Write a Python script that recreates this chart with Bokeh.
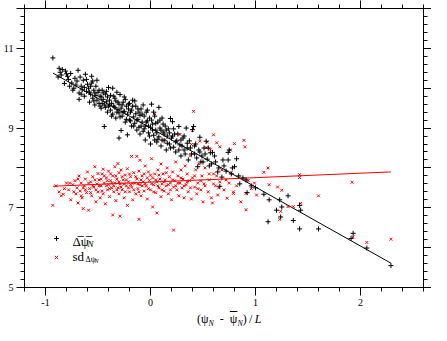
from bokeh.plotting import figure
from bokeh.models import (Range1d, FixedTicker, LinearAxis, Legend, LegendItem, Label, Div)
from bokeh.layouts import column
from bokeh.embed import file_html
from bokeh.resources import INLINE

# ---- data ----
mean_points = [
    (-0.93,10.76), (-0.86,10.40), (-0.84,10.47), (-0.81,10.43), (-0.85,10.33), (-0.88,10.28), (-0.82,10.12), (-0.80,10.36),
    (-0.78,10.22), (-0.76,10.37), (-0.75,10.13), (-0.73,10.00), (-0.72,10.25), (-0.71,10.08), (-0.74,9.95), (-0.70,10.18),
    (-0.69,10.45), (-0.68,9.88), (-0.68,9.72), (-0.66,10.05), (-0.65,9.96), (-0.64,10.20), (-0.62,10.35), (-0.63,9.80), (-0.61,9.92), (-0.60,10.10),
    (-0.59,10.00), (-0.58,9.65), (-0.57,9.85), (-0.56,10.13), (-0.56,10.30), (-0.55,9.75), (-0.54,9.95), (-0.53,9.58), (-0.52,9.82), (-0.51,10.20), (-0.51,9.70), (-0.50,9.90),
    (-0.49,9.62), (-0.48,9.80), (-0.47,9.50), (-0.46,9.95), (-0.45,9.72), (-0.44,9.04), (-0.44,9.58), (-0.43,9.85), (-0.42,9.66), (-0.41,9.40), (-0.41,9.78), (-0.40,9.55), (-0.40,10.02),
    (-0.39,9.70), (-0.38,9.45), (-0.37,9.62), (-0.36,10.00), (-0.36,9.35), (-0.35,9.80), (-0.34,9.52), (-0.33,9.68), (-0.33,9.25), (-0.32,9.90), (-0.31,9.46), (-0.30,8.75), (-0.30,9.60), (-0.30,9.38),
    (-0.29,9.84), (-0.28,8.94), (-0.28,9.50), (-0.27,9.30), (-0.26,9.65), (-0.25,9.42), (-0.24,9.15), (-0.24,9.72), (-0.23,9.55), (-0.22,8.83), (-0.22,9.35), (-0.21,9.48), (-0.20,9.20), (-0.20,9.62),
    (-0.19,9.40), (-0.18,9.05), (-0.17,9.55), (-0.16,9.28), (-0.15,9.68), (-0.15,9.12), (-0.14,9.36), (-0.13,8.95), (-0.12,9.48), (-0.12,9.22), (-0.11,9.02), (-0.10,9.32), (-0.10,8.85),
    (-0.09,9.48), (-0.08,9.15), (-0.07,8.92), (-0.06,9.30), (-0.05,9.05), (-0.05,8.70), (-0.04,9.40), (-0.03,9.18), (-0.02,8.88), (-0.01,9.25), (0.00,9.02), (0.00,8.60),
    (0.01,9.60), (0.02,9.10), (0.03,8.82), (0.04,9.30), (0.05,8.95), (0.06,8.65), (0.07,9.15), (0.08,9.52), (0.08,8.78), (0.09,9.00), (0.10,8.55),
    (0.11,9.25), (0.12,8.90), (0.13,8.68), (0.14,9.05), (0.15,8.45), (0.16,8.80), (0.17,8.98), (0.18,8.60), (0.19,9.24), (0.20,8.75),
    (0.21,9.16), (0.22,8.52), (0.23,8.85), (0.24,8.40), (0.25,8.68), (0.27,9.04), (0.28,8.58), (0.29,8.30),
    (0.31,8.75), (0.32,8.45), (0.34,9.00), (0.35,8.62), (0.36,8.20), (0.38,8.50), (0.40,8.96),
    (0.41,9.04), (0.42,8.35), (0.43,8.60), (0.45,8.03), (0.46,8.45), (0.47,8.77), (0.48,8.15), (0.49,8.30),
    (0.51,8.50), (0.53,8.67), (0.54,8.22), (0.56,8.05), (0.57,8.38), (0.59,8.39),
    (0.62,8.15), (0.64,7.90), (0.66,7.54), (0.68,7.77), (0.70,8.05),
    (0.74,8.39), (0.74,8.20), (0.75,8.45), (0.77,7.85), (0.80,8.03),
    (0.82,8.23), (0.85,7.60), (0.88,7.75), (0.91,7.70), (0.92,7.38), (0.96,7.55),
    (1.00,7.50), (1.08,7.34), (1.12,6.65), (1.13,7.20), (1.20,6.94), (1.23,7.20), (1.24,6.77), (1.25,7.02),
    (1.31,7.30), (1.36,6.68), (1.42,7.06), (1.43,6.94), (1.42,6.47), (1.60,6.47), (1.91,6.23), (1.93,6.36),
    (2.06,5.99), (2.29,5.55),
    (-0.87,10.50), (-0.79,10.30), (-0.77,10.05), (-0.67,10.28), (-0.66,9.85), (-0.63,10.02), (-0.61,10.22), (-0.58,9.90),
    (-0.57,10.05), (-0.55,10.18), (-0.54,9.68), (-0.53,9.88), (-0.52,10.05), (-0.49,9.95), (-0.48,9.55), (-0.47,9.78),
    (-0.46,9.62), (-0.45,9.88), (-0.43,9.52), (-0.42,9.92), (-0.39,9.58), (-0.38,9.82), (-0.37,9.30), (-0.35,9.55),
    (-0.34,9.75), (-0.32,9.40), (-0.31,9.65), (-0.29,9.28), (-0.27,9.58), (-0.26,9.40), (-0.25,9.78), (-0.23,9.22),
    (-0.21,9.60), (-0.19,9.18), (-0.18,9.45), (-0.17,9.70), (-0.16,9.05), (-0.14,9.55), (-0.13,9.20), (-0.11,9.40),
    (-0.09,9.05), (-0.08,9.35), (-0.07,9.58), (-0.06,8.98), (-0.04,9.15), (-0.03,9.45), (-0.02,9.05), (-0.01,8.80),
    (0.01,9.20), (0.02,8.95), (0.03,9.40), (0.04,8.70), (0.05,9.12), (0.06,8.88), (0.07,8.72), (0.09,9.20),
    (0.10,8.95), (0.11,8.70), (0.12,9.10), (0.13,8.85), (0.15,8.95), (0.16,8.62), (0.18,8.88), (0.19,8.50),
    (0.21,8.80), (0.22,8.98), (0.24,8.65), (0.26,8.85), (0.27,8.45), (0.29,8.70), (0.30,8.55), (0.32,8.80),
    (0.33,8.35), (0.35,8.50), (0.37,8.68), (0.39,8.35), (0.42,8.55), (0.44,8.25), (0.47,8.40), (0.50,8.15),
    (0.52,8.35), (0.55,8.50), (0.58,8.10), (0.61,8.30), (0.65,8.00), (0.69,8.20), (0.72,7.92), (0.78,8.00), (0.84,7.80),
]

sd_points = [
    (-0.93,7.06), (-0.90,7.55), (-0.87,7.40), (-0.85,7.30), (-0.83,7.34), (-0.80,7.62), (-0.78,7.45), (-0.76,7.20), (-0.74,7.58), (-0.72,7.68), (-0.71,7.35), (-0.70,7.50), (-0.69,7.12),
    (-0.68,7.80), (-0.67,7.42), (-0.66,7.62), (-0.65,7.25), (-0.64,6.98), (-0.63,7.55), (-0.62,7.72), (-0.61,7.38), (-0.60,7.90), (-0.59,6.94), (-0.58,7.48), (-0.57,7.65), (-0.56,7.30), (-0.55,7.78), (-0.54,7.52), (-0.53,8.03), (-0.52,7.15), (-0.51,7.60), (-0.50,7.86), (-0.50,7.40),
    (-0.49,7.70), (-0.48,7.25), (-0.47,7.55), (-0.46,7.85), (-0.45,7.97), (-0.45,7.35), (-0.44,7.62), (-0.43,7.10), (-0.42,7.75), (-0.41,7.45), (-0.40,7.92), (-0.40,7.58), (-0.39,7.28), (-0.38,7.68), (-0.37,7.50), (-0.36,6.82), (-0.36,7.80), (-0.35,7.40), (-0.34,8.03), (-0.34,7.62), (-0.33,7.18), (-0.32,7.72), (-0.31,8.11), (-0.31,7.50), (-0.30,7.88), (-0.30,7.35),
    (-0.29,6.79), (-0.29,7.60), (-0.28,7.95), (-0.27,7.45), (-0.26,7.70), (-0.25,7.25), (-0.24,7.82), (-0.23,7.55), (-0.22,7.06), (-0.22,7.98), (-0.21,7.65), (-0.20,7.40), (-0.19,7.78), (-0.18,8.29), (-0.18,7.52), (-0.17,7.20), (-0.16,7.88), (-0.15,7.62), (-0.14,7.35), (-0.13,8.29), (-0.13,7.72), (-0.12,7.48), (-0.11,6.71), (-0.11,7.92), (-0.10,8.19), (-0.10,7.58),
    (-0.09,7.30), (-0.08,7.80), (-0.07,7.65), (-0.06,7.42), (-0.05,8.05), (-0.04,7.55), (-0.03,7.22), (-0.02,7.90), (-0.01,7.68), (0.00,7.45), (0.01,8.23), (0.02,7.02), (0.02,7.75), (0.03,7.58), (0.04,9.36), (0.04,7.85), (0.05,7.38), (0.06,6.87), (0.06,7.65), (0.07,7.95), (0.08,7.50), (0.09,7.72), (0.10,7.28), (0.10,8.10),
    (0.11,7.60), (0.12,7.85), (0.13,7.42), (0.14,8.71), (0.14,7.70), (0.15,7.55), (0.16,8.00), (0.17,7.35), (0.18,7.78), (0.19,7.62), (0.20,7.20), (0.21,7.90), (0.22,6.44), (0.22,7.52), (0.23,7.68), (0.24,8.15), (0.25,7.45), (0.26,7.80), (0.27,7.30), (0.28,8.84), (0.28,7.62), (0.29,7.95), (0.30,7.50),
    (0.31,7.72), (0.32,7.25), (0.33,8.05), (0.34,7.58), (0.35,7.85), (0.36,7.40), (0.37,7.68), (0.38,8.30), (0.39,8.59), (0.39,7.22), (0.40,7.75), (0.41,9.42), (0.40,8.94), (0.42,7.52), (0.43,7.95), (0.44,7.35), (0.45,7.62), (0.46,8.10), (0.47,8.67), (0.48,7.45), (0.49,7.80), (0.50,7.15),
    (0.51,7.60), (0.52,8.00), (0.53,8.51), (0.54,8.65), (0.55,7.40), (0.56,7.70), (0.57,8.47), (0.58,7.25), (0.59,7.12), (0.60,8.83), (0.60,7.85), (0.62,7.55), (0.63,8.63), (0.63,7.80), (0.64,7.32), (0.66,8.53), (0.66,7.65), (0.68,7.95), (0.70,7.45),
    (0.72,7.70), (0.73,7.24), (0.75,7.62), (0.76,8.45), (0.77,7.88), (0.79,7.36), (0.79,7.40), (0.80,8.61), (0.82,7.55), (0.84,7.75), (0.86,7.15), (0.89,8.69), (0.90,8.53), (0.91,7.36), (0.91,6.95), (0.93,7.68), (0.96,7.48), (0.99,7.62),
    (1.01,7.32), (1.08,7.89), (1.12,8.00), (1.13,7.58), (1.21,7.52), (1.23,6.71), (1.24,6.91), (1.25,7.44), (1.31,7.03), (1.36,7.03),
    (1.42,7.83), (1.42,7.76), (1.43,7.11), (1.60,7.30), (1.92,7.64), (1.93,6.27), (2.06,6.13), (2.29,6.21),
    (-0.82,7.48), (-0.77,7.62), (-0.73,7.40), (-0.69,7.72), (-0.66,7.30), (-0.64,7.50), (-0.62,7.45), (-0.59,7.62),
    (-0.57,7.38), (-0.55,7.55), (-0.53,7.70), (-0.52,7.45), (-0.49,7.55), (-0.47,7.72), (-0.46,7.42), (-0.44,7.80),
    (-0.42,7.55), (-0.41,7.68), (-0.39,7.48), (-0.38,7.85), (-0.37,7.62), (-0.35,7.55), (-0.33,7.80), (-0.32,7.45),
    (-0.30,7.65), (-0.28,7.52), (-0.27,7.78), (-0.25,7.60), (-0.24,7.40), (-0.23,7.70), (-0.21,7.50), (-0.20,7.85),
    (-0.19,7.58), (-0.17,7.62), (-0.16,7.45), (-0.14,7.78), (-0.12,7.60), (-0.11,7.40), (-0.09,7.70), (-0.08,7.55),
    (-0.06,7.85), (-0.05,7.60), (-0.03,7.75), (-0.02,7.48), (0.00,7.82), (0.01,7.60), (0.03,7.40), (0.05,7.70),
    (0.07,7.55), (0.08,7.82), (0.11,7.45), (0.13,7.65), (0.15,7.88), (0.17,7.58), (0.19,7.45), (0.21,7.70),
    (0.24,7.55), (0.26,7.62), (0.29,7.75), (0.32,7.55), (0.35,7.65), (0.38,7.50), (0.42,7.80), (0.45,7.48),
    (0.48,7.68), (0.52,7.55), (0.56,7.85), (0.60,7.60), (0.65,7.50),
]

mean_x = [p[0] for p in mean_points]
mean_y = [p[1] for p in mean_points]
sd_x = [p[0] for p in sd_points]
sd_y = [p[1] for p in sd_points]

# fitted straight lines (end points)
fit_x = [-0.93, 2.29]
fit_mean = [10.38, 5.61]
fit_sd = [7.54, 7.90]

x_major = [-1, 0, 1, 2]
x_minor = [-1.2, -1.0, -0.8, -0.6, -0.4, -0.2, 0.0, 0.2, 0.4, 0.6, 0.8, 1.0, 1.2, 1.4, 1.6, 1.8, 2.0, 2.2, 2.4, 2.6]
y_major = [5, 6, 7, 8, 9, 10, 11, 12]
y_minor = [5 + 0.2 * i for i in range(36)]
y_labels = {5: "5", 6: "", 7: "7", 8: "", 9: "9", 10: "", 11: "11", 12: ""}
x_labels = {-1: "-1", 0: "0", 1: "1", 2: "2"}

SERIF = "Liberation Serif"

p = figure(width=431, height=311, output_backend="svg", toolbar_location=None,
           x_range=Range1d(-1.2, 2.6), y_range=Range1d(5, 12),
           min_border_left=21, min_border_right=8, min_border_top=8, min_border_bottom=24)
p.xgrid.visible = False
p.ygrid.visible = False
p.outline_line_color = "black"
p.background_fill_color = "white"
p.border_fill_color = "white"

def style_axis(ax, ticks, minor, labels):
    ax.ticker = FixedTicker(ticks=ticks, minor_ticks=minor)
    ax.axis_line_color = "black"
    ax.axis_line_width = 1
    ax.major_tick_line_color = "black"
    ax.minor_tick_line_color = "black"
    ax.major_tick_in = 0
    ax.major_tick_out = 8
    ax.minor_tick_in = 0
    ax.minor_tick_out = 4
    ax.major_label_overrides = labels
    ax.major_label_text_font = SERIF
    ax.major_label_text_font_size = "10px"
    ax.major_label_text_color = "black"
    ax.major_label_standoff = 3

style_axis(p.xaxis[0], x_major, x_minor, x_labels)
style_axis(p.yaxis[0], y_major, y_minor, y_labels)
top = LinearAxis()
style_axis(top, x_major, x_minor, {t: "" for t in x_major})
top.major_label_standoff = 0
p.add_layout(top, "above")
right = LinearAxis()
style_axis(right, y_major, y_minor, {t: "" for t in y_major})
right.major_label_standoff = 0
p.add_layout(right, "right")

p.line(fit_x, fit_mean, line_color="black", line_width=1)
p.line(fit_x, fit_sd, line_color="red", line_width=1)
r_sd = p.scatter(sd_x, sd_y, marker="x", size=4, line_color="red", line_width=1)
r_mean = p.scatter(mean_x, mean_y, marker="cross", size=5, line_color="black", line_width=1)

legend = Legend(items=[LegendItem(label=" ", renderers=[r_mean]),
                       LegendItem(label=" ", renderers=[r_sd])],
                location=(26, 24), orientation="vertical", padding=0, margin=0, spacing=7,
                glyph_width=12, glyph_height=12, label_width=0, label_height=12,
                label_standoff=0, border_line_color=None, background_fill_alpha=0,
                label_text_font_size="1px")
p.add_layout(legend)

def lab(text, x, y, size, italic=False, xo=0, yo=0):
    p.add_layout(Label(x=x, y=y, x_offset=xo, y_offset=yo, text=text,
                       text_font=SERIF, text_font_size=size,
                       text_font_style="italic" if italic else "normal",
                       text_color="black", text_baseline="alphabetic", text_align="left"))

# legend texts
lab("\u0394\u0305\u03c8\u0305", -0.743, 6.16, "13px")
lab("N", -0.743, 6.16, "9px", italic=True, xo=15, yo=-3)
lab("sd", -0.743, 5.79, "13px")
lab("\u0394\u03c8", -0.743, 5.79, "8px", xo=13, yo=-3)
lab("N", -0.743, 5.79, "6px", italic=True, xo=22, yo=-5)

# x axis title (HTML so that sub-scripts and the over-bar are real text)
title_html = (
    "<div style=\"font-family:'Liberation Serif';font-size:12px;color:black;"
    "padding-left:197px;line-height:13px;white-space:nowrap;\">"
    "(\u03c8<span style=\"font-size:8px;font-style:italic;vertical-align:-3px;\">N</span>"
    "&nbsp;&nbsp;-&nbsp;&nbsp;"
    "<span style=\"text-decoration:overline;\">\u03c8</span>"
    "<span style=\"font-size:8px;font-style:italic;vertical-align:-3px;\">N</span>"
    ")&thinsp;/&thinsp;<i>L</i></div>"
)
title = Div(text=title_html, width=431, height=14, margin=(0, 0, 0, 0))

layout = column(p, title, spacing=0)
open("out.html", "w").write(file_html(layout, INLINE))
